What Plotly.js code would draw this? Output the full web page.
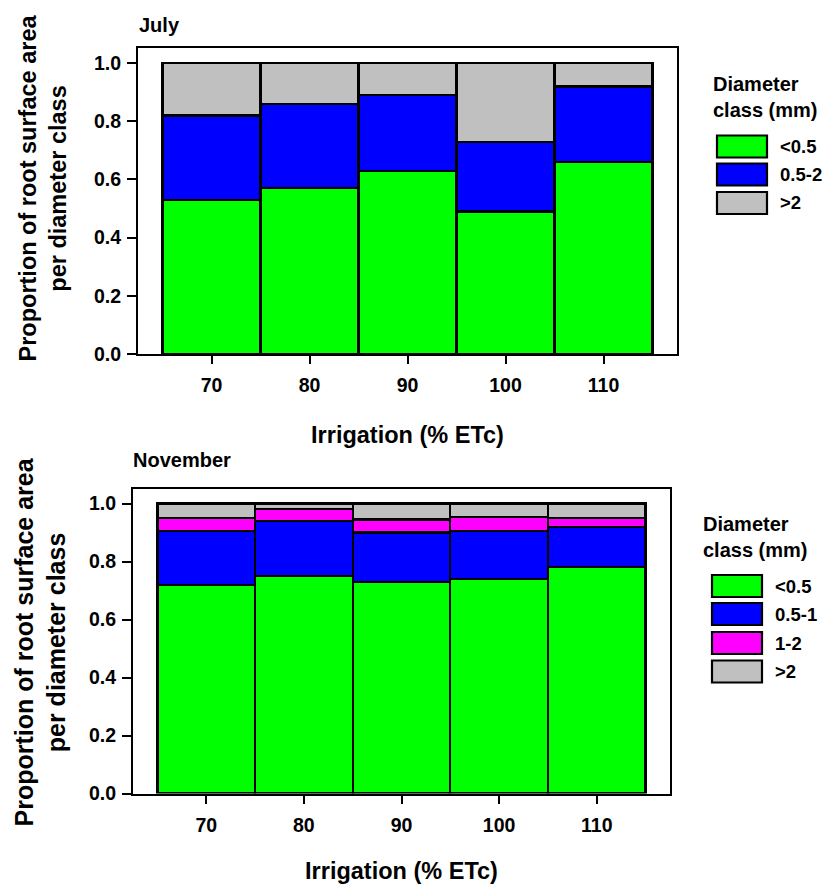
<!DOCTYPE html>
<html><head><meta charset="utf-8">
<script src="https://cdn.plot.ly/plotly-3.0.1.min.js"></script>
<style>html,body{margin:0;padding:0;background:#fff}#chart{width:830px;height:884px}</style>
</head><body><div id="chart"></div>
<script>
// ---- data ----
const irrigation = [70, 80, 90, 100, 110];
const yTicks = [0, 0.2, 0.4, 0.6, 0.8, 1.0];
// July
const julyClasses = ['<0.5', '0.5-2', '>2'];
const julyLt05 = [0.53, 0.57, 0.63, 0.49, 0.66];
const july05to2 = [0.29, 0.29, 0.26, 0.24, 0.26];
const julyGt2 = [0.18, 0.14, 0.11, 0.27, 0.08];
// November
const novClasses = ['<0.5', '0.5-1', '1-2', '>2'];
const novLt05 = [0.72, 0.75, 0.73, 0.74, 0.78];
const nov05to1 = [0.185, 0.19, 0.17, 0.165, 0.14];
const nov1to2 = [0.045, 0.04, 0.045, 0.05, 0.03];
const novGt2 = [0.05, 0.02, 0.055, 0.045, 0.05];

// ---- styling ----
const W = 830, H = 884;
const FONT = 'Arial, "Liberation Sans", sans-serif';
const cGreen = '#00ff00', cBlue = '#0000ff', cMag = '#ff00ff', cGray = '#c0c0c0';
const px = v => v / W;
const py = v => 1 - v / H;

function barTrace(y, color, name, xa, ya) {
  return {
    type: 'bar', x: irrigation, y: y, width: 10, name: name,
    xaxis: xa, yaxis: ya, showlegend: false,
    marker: {color: color, line: {color: '#000', width: 2.2}},
    hoverinfo: 'x+y+name'
  };
}

const traces = [
  barTrace(julyLt05, cGreen, julyClasses[0], 'x', 'y'),
  barTrace(july05to2, cBlue, julyClasses[1], 'x', 'y'),
  barTrace(julyGt2, cGray, julyClasses[2], 'x', 'y'),
  barTrace(novLt05, cGreen, novClasses[0], 'x2', 'y2'),
  barTrace(nov05to1, cBlue, novClasses[1], 'x2', 'y2'),
  barTrace(nov1to2, cMag, novClasses[2], 'x2', 'y2'),
  barTrace(novGt2, cGray, novClasses[3], 'x2', 'y2')
];

function xAxis(dom, anchor, standoff) {
  return {
    domain: dom, anchor: anchor, range: [62.5, 117.5],
    tickvals: irrigation, ticktext: irrigation.map(String),
    ticks: 'outside', ticklen: 8, tickwidth: 2, tickcolor: '#000',
    ticklabelstandoff: 5,
    showline: true, linewidth: 2, linecolor: '#000', mirror: true,
    showgrid: false, zeroline: false, automargin: false,
    tickfont: {family: FONT, size: 19.5, color: '#000', weight: 'bold'},
    title: {text: 'Irrigation (% ETc)', standoff: standoff,
            font: {family: FONT, size: 23.5, color: '#000', weight: 'bold'}}
  };
}
function yAxis(dom, anchor) {
  return {
    domain: dom, anchor: anchor, range: [0, 1.052],
    tickvals: yTicks, tickformat: '.1f',
    ticks: 'outside', ticklen: 9, tickwidth: 2, tickcolor: '#000',
    ticklabelstandoff: 2,
    showline: true, linewidth: 2, linecolor: '#000', mirror: true,
    showgrid: false, zeroline: false, automargin: false,
    tickfont: {family: FONT, size: 19.5, color: '#000', weight: 'bold'}
  };
}

const shapes = [];
const annotations = [];
function ann(text, x, y, size, xanchor, yanchor, extra) {
  annotations.push(Object.assign({
    text: text, x: px(x), y: py(y), xref: 'paper', yref: 'paper',
    xanchor: xanchor, yanchor: yanchor, showarrow: false,
    font: {family: FONT, size: size, color: '#000', weight: 'bold'}, align: 'left'
  }, extra || {}));
}
function legend(x0, titleY, boxX, rows, classes, colors, textX) {
  ann('Diameter<br>class (mm)', x0, titleY, 20, 'left', 'top');
  rows.forEach((r, i) => {
    shapes.push({type: 'rect', xref: 'paper', yref: 'paper',
      x0: px(boxX), x1: px(boxX + 50), y0: py(r + 11), y1: py(r - 11),
      fillcolor: colors[i], line: {color: '#000', width: 2.2}});
    ann(classes[i], textX, r, 18.5, 'left', 'middle');
  });
}

// panel titles
ann('July', 137, 25, 20, 'left', 'middle');
ann('November', 131, 460, 20, 'left', 'middle');
// y titles
ann('Proportion of root surface area<br>per diameter class', 43, 188.5, 23.5, 'center', 'middle', {textangle: -90, align: 'center'});
ann('Proportion of root surface area<br>per diameter class', 40, 642.5, 25, 'center', 'middle', {textangle: -90, align: 'center'});
// legends
legend(711, 71, 717, [146.5, 174.5, 203], julyClasses, [cGreen, cBlue, cGray], 778);
legend(701, 511, 712, [586, 614, 643, 671.5], novClasses, [cGreen, cBlue, cMag, cGray], 773);

const layout = {
  width: W, height: H,
  margin: {l: 0, r: 0, t: 0, b: 0},
  paper_bgcolor: '#fff', plot_bgcolor: '#fff',
  barmode: 'stack', bargap: 0,
  showlegend: false,
  xaxis: xAxis([px(138), px(677)], 'y', 31),
  yaxis: yAxis([py(354), py(48)], 'x'),
  xaxis2: xAxis([px(133), px(670)], 'y2', 31),
  yaxis2: yAxis([py(793.5), py(488.5)], 'x2'),
  shapes: shapes,
  annotations: annotations
};

Plotly.newPlot('chart', traces, layout, {displayModeBar: false, staticPlot: true});
</script>
</body></html>
